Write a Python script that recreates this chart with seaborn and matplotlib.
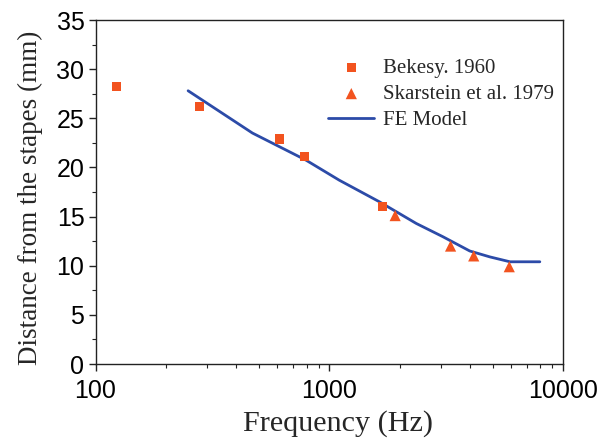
import matplotlib
matplotlib.use("Agg")
import matplotlib.pyplot as plt
import seaborn as sns
import pandas as pd
from matplotlib.ticker import FixedLocator, MultipleLocator, NullFormatter

# Data
bekesy_freq = [123, 279, 614, 783, 1694]
bekesy_dist = [28.25, 26.2, 22.9, 21.1, 16.0]
skar_freq = [1914, 3304, 4150, 5890]
skar_dist = [15.1, 12.0, 11.0, 9.9]
fe_freq = [249, 469, 794, 1104, 1640, 2356, 3063, 3990, 4860, 5930, 7960]
fe_dist = [27.8, 23.5, 20.75, 18.7, 16.5, 14.3, 12.95, 11.5, 10.9, 10.4, 10.4]
x_ticks = [100, 1000, 10000]
x_ticklabels = ["100", "1000", "10000"]

sns.set_style("ticks")
plt.rcParams['font.family'] = ['Liberation Sans', 'DejaVu Sans']

fig = plt.figure(figsize=(6.01, 4.48), dpi=100)
left, right, top, bottom = 95.5 / 601, 563 / 601, 1 - 20 / 448, 1 - 364 / 448
ax = fig.add_axes([left, bottom, right - left, top - bottom])

orange = "#F2531F"
blue = "#2C4BA8"

sns.lineplot(x=fe_freq, y=fe_dist, ax=ax, color=blue, lw=2.0, label="FE Model", zorder=2)
sns.scatterplot(x=bekesy_freq, y=bekesy_dist, ax=ax, marker="s", s=45, color=orange,
                edgecolor="none", label="Bekesy. 1960", zorder=3)
sns.scatterplot(x=skar_freq, y=skar_dist, ax=ax, marker="^", s=65, color=orange,
                edgecolor="none", label="Skarstein et al. 1979", zorder=3)

ax.set_xscale("log")
ax.set_xlim(100, 10000)
ax.set_ylim(0, 35)
ax.xaxis.set_major_locator(FixedLocator(x_ticks))
ax.set_xticklabels(x_ticklabels)
ax.xaxis.set_minor_formatter(NullFormatter())
ax.yaxis.set_major_locator(MultipleLocator(5))
ax.yaxis.set_minor_locator(MultipleLocator(2.5))

for s in ax.spines.values():
    s.set_color("#222222")
    s.set_linewidth(1.0)
ax.tick_params(axis="both", which="major", direction="out", length=5, width=1.0,
               labelsize=18, colors="#222222", labelcolor="black", pad=3)
ax.tick_params(axis="x", which="major", pad=6)
ax.tick_params(axis="both", which="minor", direction="out", length=3, width=0.8, colors="#222222")

ax.set_xlabel("Frequency (Hz)", family="Liberation Serif", fontsize=21.7, labelpad=5)
ax.set_ylabel("Distance from the stapes (mm)", family="Liberation Serif", fontsize=19.5, labelpad=6)
ax.xaxis.set_label_coords(0.518, -0.135)
ax.xaxis.label.set_va("top")
ax.yaxis.set_label_coords(-0.113, 0.483)

handles, labels = ax.get_legend_handles_labels()
order = [labels.index("Bekesy. 1960"), labels.index("Skarstein et al. 1979"), labels.index("FE Model")]
leg = ax.legend([handles[i] for i in order], [labels[i] for i in order],
                loc="upper right", bbox_to_anchor=(1.011, 0.93), frameon=False,
                prop={"family": "Liberation Serif", "size": 15},
                handlelength=2.2, handletextpad=0.4, labelspacing=0.3, borderaxespad=0.3)

fig.savefig("out.png", dpi=100)
